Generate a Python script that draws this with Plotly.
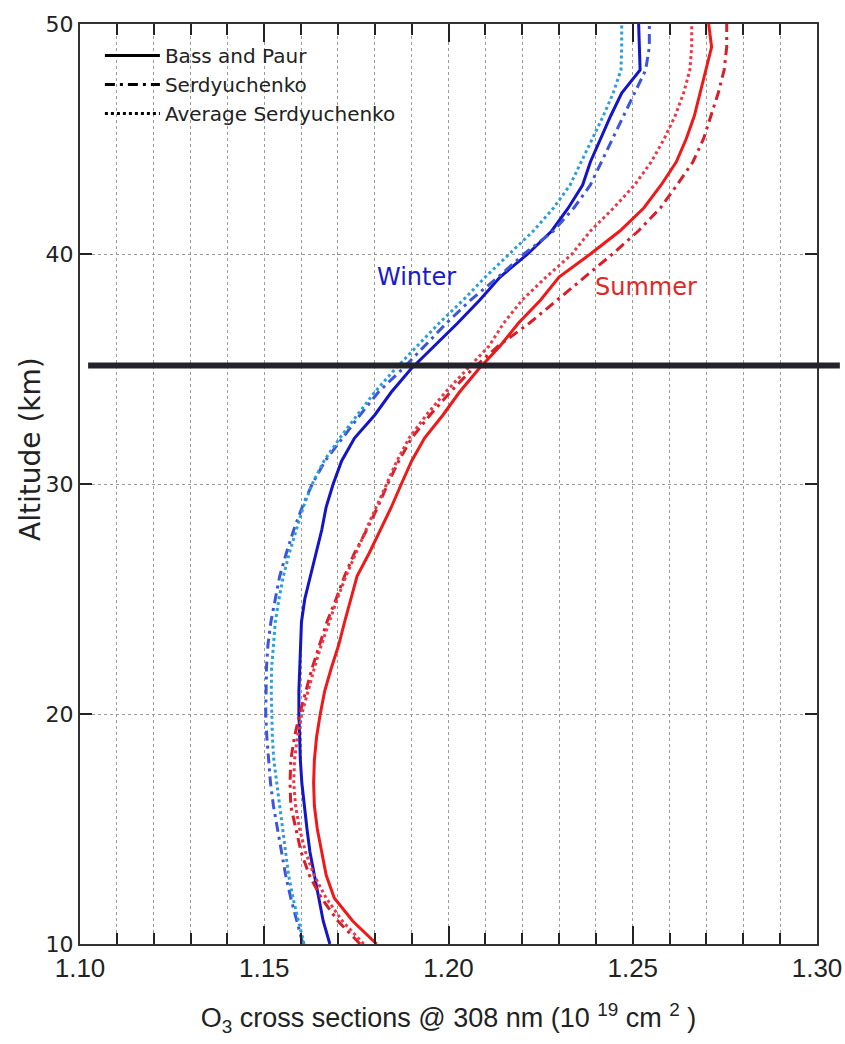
import plotly.graph_objects as go

# Altitude grid (km)
altitude = list(range(10, 51))

# O3 cross sections at 308 nm (1e-19 cm^2)
bp_winter = [1.1678, 1.1660, 1.1648, 1.1636, 1.1624, 1.1616, 1.1608, 1.1602, 1.1598, 1.1595,
             1.1594, 1.1594, 1.1596, 1.1598, 1.1601, 1.1610, 1.1625, 1.1642, 1.1656, 1.1668,
             1.1687, 1.1710, 1.1745, 1.1800, 1.1845, 1.1898, 1.1962, 1.2025, 1.2085, 1.2140,
             1.2215, 1.2280, 1.2325, 1.2364, 1.2385, 1.2412, 1.2440, 1.2470, 1.2520, 1.2518,
             1.2516]
serd_winter = [1.1605, 1.1588, 1.1572, 1.1558, 1.1547, 1.1535, 1.1525, 1.1517, 1.1511, 1.1507,
               1.1504, 1.1504, 1.1506, 1.1510, 1.1518, 1.1530, 1.1542, 1.1560, 1.1580, 1.1603,
               1.1630, 1.1665, 1.1712, 1.1760, 1.1810, 1.1875, 1.1935, 1.1995, 1.2060, 1.2135,
               1.2205, 1.2285, 1.2340, 1.2385, 1.2415, 1.2445, 1.2475, 1.2503, 1.2535, 1.2545,
               1.2545]
avg_winter = [1.1608, 1.1592, 1.1578, 1.1566, 1.1558, 1.1548, 1.1540, 1.1532, 1.1526, 1.1522,
              1.1520, 1.1519, 1.1520, 1.1524, 1.1530, 1.1540, 1.1552, 1.1568, 1.1586, 1.1606,
              1.1630, 1.1662, 1.1705, 1.1752, 1.1800, 1.1855, 1.1915, 1.1975, 1.2040, 1.2100,
              1.2165, 1.2230, 1.2285, 1.2330, 1.2360, 1.2390, 1.2420, 1.2447, 1.2468, 1.2470,
              1.2470]
bp_summer = [1.1805, 1.1740, 1.1690, 1.1668, 1.1656, 1.1644, 1.1636, 1.1634, 1.1636, 1.1642,
             1.1652, 1.1664, 1.1682, 1.1702, 1.1718, 1.1735, 1.1752, 1.1785, 1.1815, 1.1845,
             1.1872, 1.1900, 1.1935, 1.1985, 1.2030, 1.2082, 1.2140, 1.2190, 1.2250, 1.2300,
             1.2385, 1.2465, 1.2530, 1.2577, 1.2618, 1.2645, 1.2667, 1.2683, 1.2698, 1.2714,
             1.2706]
serd_summer = [1.1760, 1.1700, 1.1655, 1.1622, 1.1600, 1.1585, 1.1572, 1.1570, 1.1572, 1.1582,
               1.1596, 1.1613, 1.1630, 1.1650, 1.1670, 1.1695, 1.1718, 1.1745, 1.1778, 1.1808,
               1.1835, 1.1865, 1.1900, 1.1950, 1.2005, 1.2065, 1.2135, 1.2220, 1.2295, 1.2370,
               1.2445, 1.2515, 1.2575, 1.2620, 1.2663, 1.2692, 1.2713, 1.2732, 1.2748, 1.2755,
               1.2755]
avg_summer = [1.1770, 1.1712, 1.1668, 1.1635, 1.1612, 1.1596, 1.1585, 1.1580, 1.1582, 1.1590,
              1.1602, 1.1618, 1.1636, 1.1655, 1.1676, 1.1698, 1.1722, 1.1748, 1.1776, 1.1804,
              1.1832, 1.1860, 1.1893, 1.1940, 1.1992, 1.2052, 1.2110, 1.2150, 1.2200, 1.2265,
              1.2335, 1.2385, 1.2448, 1.2505, 1.2550, 1.2585, 1.2615, 1.2638, 1.2655, 1.2660,
              1.2660]

# Altitude of the highlighted level (km)
marker_level = 35.15

DASHDOT = "10px,5px,3px,5px"

series = [
    (bp_winter, "#1414c8", "solid"),
    (serd_winter, "#3c55dc", DASHDOT),
    (avg_winter, "#2c9fd8", "dot"),
    (bp_summer, "#f01818", "solid"),
    (serd_summer, "#d81e28", DASHDOT),
    (avg_summer, "#e83a48", "dot"),
]

fig = go.Figure()
for values, color, dash in series:
    fig.add_trace(go.Scatter(x=values, y=altitude, mode="lines", showlegend=False,
                             line=dict(color=color, width=3, dash=dash)))

# Black legend keys for the three datasets
for name, dash in [("Bass and Paur", "solid"), ("Serdyuchenko", DASHDOT),
                   ("Average Serdyuchenko", "dot")]:
    fig.add_trace(go.Scatter(x=[None], y=[None], mode="lines", name=name,
                             line=dict(color="black", width=3, dash=dash)))

fig.add_shape(type="line", xref="paper", yref="y", x0=0.011, x1=1.031,
              y0=marker_level, y1=marker_level, line=dict(color="#23232b", width=6))

fig.add_annotation(x=1.1912, y=39.0, text="Winter", showarrow=False,
                   font=dict(family="DejaVu Sans", size=24, color="#1a1acc"))
fig.add_annotation(x=1.2536, y=38.55, text="Summer", showarrow=False,
                   font=dict(family="DejaVu Sans", size=24, color="#e02828"))

# Vertical axis title
fig.add_annotation(xref="paper", yref="paper", x=-0.068, y=0.538, text="Altitude (km)",
                   textangle=-90, showarrow=False, xanchor="center", yanchor="middle",
                   font=dict(family="DejaVu Sans", size=28, color="#222"))

fig.update_layout(
    width=845, height=1044,
    margin=dict(l=80, r=28, t=24, b=100, autoexpand=False),
    paper_bgcolor="white", plot_bgcolor="white",
    showlegend=True,
    legend=dict(x=0.027, y=0.987, xanchor="left", yanchor="top",
                bgcolor="rgba(0,0,0,0)", itemwidth=55, tracegroupgap=0,
                font=dict(family="DejaVu Sans", size=20, color="#222")),
)

fig.update_xaxes(
    range=[1.10, 1.30], tickmode="linear", tick0=1.10, dtick=0.05, tickformat=".2f",
    ticks="inside", ticklen=18, tickwidth=2, tickcolor="#222",
    showline=True, linecolor="#333", linewidth=2, mirror="allticks",
    showgrid=True, gridcolor="#9a9a9a", griddash="dot", gridwidth=1,
    minor=dict(dtick=0.01, tick0=1.10, ticks="inside", ticklen=11, tickwidth=1.5,
               tickcolor="#222", showgrid=True, gridcolor="#9a9a9a", griddash="dot",
               gridwidth=1),
    tickfont=dict(family="Liberation Sans", size=26, color="#222"),
    title=dict(text="O<sub>3</sub> cross sections @ 308 nm (10 <sup>19</sup> cm <sup>2</sup> )",
               font=dict(family="Liberation Sans", size=27, color="#222"), standoff=26),
    automargin=False, zeroline=False,
)
fig.update_yaxes(
    range=[10, 50], tickmode="linear", tick0=10, dtick=10,
    ticks="inside", ticklen=12, tickwidth=2, tickcolor="#222",
    showline=True, linecolor="#333", linewidth=2, mirror="allticks",
    showgrid=True, gridcolor="#9a9a9a", griddash="dot", gridwidth=1,
    tickfont=dict(family="DejaVu Sans", size=22, color="#222"),
    automargin=False, zeroline=False,
)

fig.write_html("out.html")
